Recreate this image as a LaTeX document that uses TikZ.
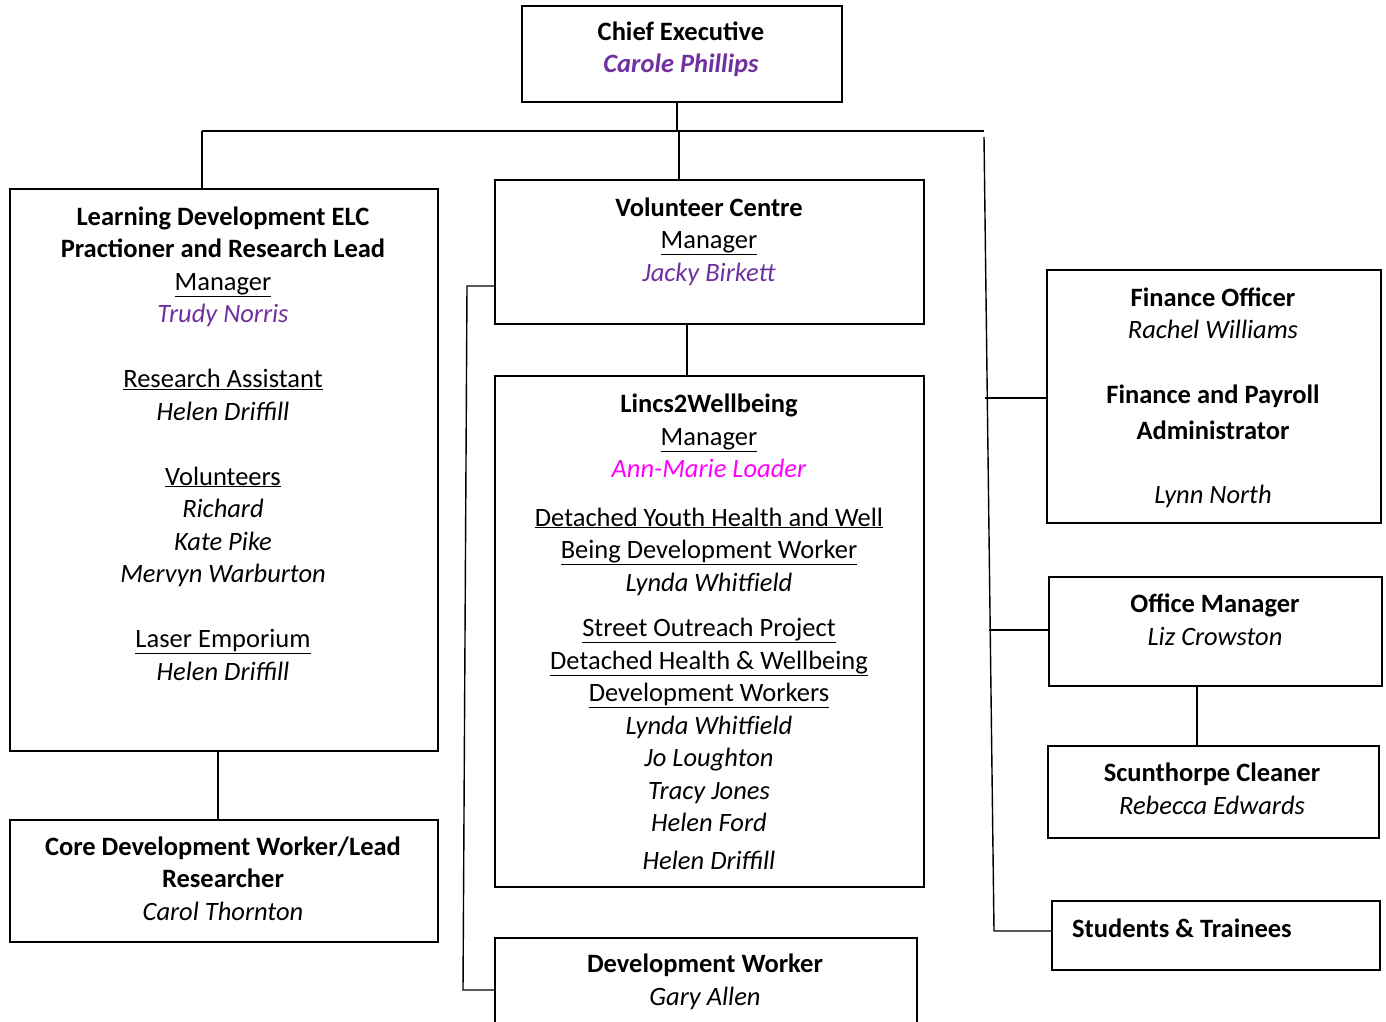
\documentclass[tikz,border=0pt]{standalone}
\usepackage{fontspec}
\setmainfont{Carlito}
\usepackage{tikz}
\usetikzlibrary{positioning}
\definecolor{plum}{RGB}{112,48,160}
\definecolor{pinkish}{RGB}{255,0,255}

\begin{document}
\begin{tikzpicture}[x=1pt,y=-1pt,
    box/.style={draw, line width=1.8pt, anchor=north west, inner sep=0pt},
    txt/.style={align=center, anchor=base, inner sep=0pt, font=\fontsize{26.5}{32.5}\selectfont},
    link/.style={line width=1.4pt}]
  \useasboundingbox (0,0) rectangle (1386,1022);
  \clip (0,0) rectangle (1386,1022);

  % boxes
  \node[box, minimum width=320pt, minimum height=96pt]  (ceo)   at (521,5)    {};
  \node[box, minimum width=428pt, minimum height=562pt] (ld)    at (9,188)    {};
  \node[box, minimum width=428pt, minimum height=122pt] (core)  at (9,819)    {};
  \node[box, minimum width=429pt, minimum height=144pt] (vol)   at (494,179)  {};
  \node[box, minimum width=429pt, minimum height=511pt] (lincs) at (494,375)  {};
  \node[box, minimum width=422pt, minimum height=120pt] (dev)   at (494,937)  {};
  \node[box, minimum width=334pt, minimum height=253pt] (fin)   at (1046,269) {};
  \node[box, minimum width=333pt, minimum height=109pt] (off)   at (1048,576) {};
  \node[box, minimum width=331pt, minimum height=92pt]  (clean) at (1047,745) {};
  \node[box, minimum width=328pt, minimum height=69pt]  (stud)  at (1051,900) {};

  % texts (placed at the baseline of their last line)
  \node[txt] (ceo-t) at (681,73) {\textbf{Chief Executive}\\\textcolor{plum}{\textbf{\textit{Carole Phillips}}}};
  \node[txt] (ld-t) at (223,680) {\textbf{Learning Development ELC}\\\textbf{Practioner and Research Lead}\\\underline{Manager}\\\textcolor{plum}{\textit{Trudy Norris}}\\[32.5pt]
    \underline{Research Assistant}\\\textit{Helen Driffill}\\[32.5pt]
    \underline{Volunteers}\\\textit{Richard}\\\textit{Kate Pike}\\\textit{Mervyn Warburton}\\[32.5pt]
    \underline{Laser Emporium}\\\textit{Helen Driffill}};
  \node[txt] (core-t) at (223,920) {\textbf{Core Development Worker/Lead}\\\textbf{Researcher}\\\textit{Carol Thornton}};
  \node[txt] (vol-t) at (709,281) {\textbf{Volunteer Centre}\\\underline{Manager}\\\textcolor{plum}{\textit{Jacky Birkett}}};
  \node[txt] (lincs-t) at (709,869) {\textbf{Lincs2Wellbeing}\\\underline{Manager}\\\textcolor{pinkish}{\textit{Ann-Marie Loader}}\\[16pt]
    \underline{Detached Youth Health and Well}\\\underline{Being Development Worker}\\\textit{Lynda Whitfield}\\[13pt]
    \underline{Street Outreach Project}\\\underline{Detached Health \& Wellbeing}\\\underline{Development Workers}\\\textit{Lynda Whitfield}\\\textit{Jo Loughton}\\\textit{Tracy Jones}\\\textit{Helen Ford}\\[5pt]
    \textit{Helen Driffill}};
  \node[txt] (dev-t) at (705,1005) {\textbf{Development Worker}\\\textit{Gary Allen}};
  \node[txt] (fin-t) at (1213,503) {\textbf{Finance Officer}\\\textit{Rachel Williams}\\[32pt]
    \textbf{Finance and Payroll}\\[4pt]\textbf{Administrator}\\[31pt]\textit{Lynn North}};
  \node[txt] (off-t) at (1215,645) {\textbf{Office Manager}\\\textit{Liz Crowston}};
  \node[txt] (clean-t) at (1212,814) {\textbf{Scunthorpe Cleaner}\\\textit{Rebecca Edwards}};
  \node[txt, anchor=base west] (stud-t) at (1072,937) {\textbf{Students \& Trainees}};

  % connectors
  \coordinate (busL) at (202,131);
  \coordinate (busR) at (984,131);
  \coordinate (rtop) at (984,137);
  \coordinate (rbot) at (994,931);
  \coordinate (finj) at (985,398);
  \coordinate (offj) at (989,630);
  \coordinate (bt) at (467,286);
  \coordinate (bb) at (463,990);

  \draw[link] ([xshift=-5pt]ceo.south) -- ([xshift=-5pt]ceo.south |- busL);
  \draw[link] (busL) -- (busR);
  \draw[link] (busL) -- (busL |- ld.north);
  \draw[link] ([xshift=-30.5pt]vol.north |- busL) -- ([xshift=-30.5pt]vol.north);
  \draw[link] ([xshift=-22.5pt]vol.south) -- ([xshift=-22.5pt]lincs.north);
  \draw[link] ([xshift=-6pt]ld.south) -- ([xshift=-6pt]core.north);
  \draw[link] (vol.west |- bt) -- (bt) -- (bb) -- (bb -| dev.west);
  \draw[link] (rtop) -- (rbot) -- (rbot -| stud.west);
  \draw[link] (finj) -- (finj -| fin.west);
  \draw[link] (offj) -- (offj -| off.west);
  \draw[link] ([xshift=-18.5pt]off.south) -- ([xshift=-18.5pt]off.south |- clean.north);
\end{tikzpicture}
\end{document}
